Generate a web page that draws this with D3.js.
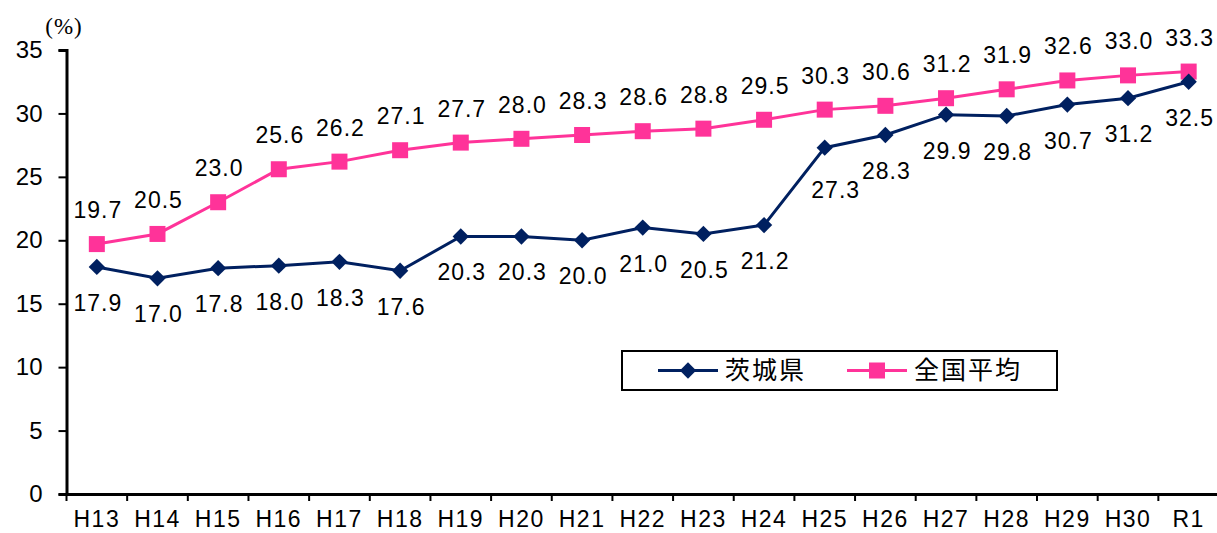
<!DOCTYPE html>
<html>
<head>
<meta charset="utf-8">
<script src="https://cdn.jsdelivr.net/npm/d3@7"></script>
<style>
  body { margin: 0; background: #fff; }
  svg { display: block; font-family: "Liberation Sans", Arial, sans-serif; }
</style>
</head>
<body>
<svg id="chart" width="1217" height="533"></svg>
<script>
// data
const years = ["H13","H14","H15","H16","H17","H18","H19","H20","H21","H22","H23","H24","H25","H26","H27","H28","H29","H30","R1"]
const ibaraki = [17.9,17.0,17.8,18.0,18.3,17.6,20.3,20.3,20.0,21.0,20.5,21.2,27.3,28.3,29.9,29.8,30.7,31.2,32.5]
const national = [19.7,20.5,23.0,25.6,26.2,27.1,27.7,28.0,28.3,28.6,28.8,29.5,30.3,30.6,31.2,31.9,32.6,33.0,33.3]
const yTicks = [0,5,10,15,20,25,30,35]

const navy = "#002060"
const pink = "#FF3399"

const svg = d3.select("#chart")
const plotLeft = 66.5, plotRight = 1219, plotTop = 50, plotBottom = 494

const x = d3.scaleBand().domain(years).range([plotLeft, plotRight])
const y = d3.scaleLinear().domain([0, 35]).range([plotBottom, plotTop])
const cx = d => x(d) + x.bandwidth() / 2

// y axis
const yAxis = svg.append("g")
  .attr("transform", `translate(${plotLeft},0)`)
  .call(d3.axisLeft(y).tickValues(yTicks).tickSize(8).tickPadding(16))
yAxis.select(".domain").attr("stroke", "#000").attr("stroke-width", 3)
yAxis.selectAll(".tick line").attr("stroke", "#000").attr("stroke-width", 2)
yAxis.selectAll(".tick text")
  .attr("font-size", 24).attr("fill", "#000")
  .attr("font-family", "Liberation Sans, Arial, sans-serif")

// x axis: labels from axis, ticks at band boundaries
const xAxis = svg.append("g")
  .attr("transform", `translate(0,${plotBottom})`)
  .call(d3.axisBottom(x).tickSize(0).tickPadding(17))
xAxis.select(".domain").attr("stroke", "#000").attr("stroke-width", 3)
xAxis.selectAll(".tick text")
  .attr("font-size", 23).attr("fill", "#000")
  .attr("letter-spacing", 1.5)
  .attr("font-family", "Liberation Sans, Arial, sans-serif")
svg.append("g").selectAll("line")
  .data(years)
  .enter().append("line")
  .attr("x1", d => x(d)).attr("x2", d => x(d))
  .attr("y1", plotBottom).attr("y2", plotBottom + 7)
  .attr("stroke", "#000").attr("stroke-width", 2)

// unit label
svg.append("text")
  .attr("x", 64).attr("y", 34)
  .attr("text-anchor", "middle")
  .attr("font-size", 23)
  .attr("letter-spacing", 1)
  .attr("font-family", "Liberation Serif, serif")
  .text("(%)")

const line = d3.line().x((d, i) => cx(years[i])).y(d => y(d))

// national average
svg.append("path").datum(national)
  .attr("d", line).attr("fill", "none")
  .attr("stroke", pink).attr("stroke-width", 3)
svg.append("g").selectAll("rect")
  .data(national).enter().append("rect")
  .attr("x", (d, i) => cx(years[i]) - 8)
  .attr("y", d => y(d) - 8)
  .attr("width", 16).attr("height", 16)
  .attr("fill", pink)

// ibaraki
svg.append("path").datum(ibaraki)
  .attr("d", line).attr("fill", "none")
  .attr("stroke", navy).attr("stroke-width", 3)
const diamond = d3.symbol().type(d3.symbolDiamond2).size(170)
svg.append("g").selectAll("path")
  .data(ibaraki).enter().append("path")
  .attr("d", diamond)
  .attr("transform", (d, i) => `translate(${cx(years[i])},${y(d)})`)
  .attr("fill", navy)

// value labels
const labelFont = {size: 23, spacing: 1}
svg.append("g").selectAll("text")
  .data(national).enter().append("text")
  .attr("x", (d, i) => cx(years[i]) + 1)
  .attr("y", d => y(d) - 26)
  .attr("text-anchor", "middle")
  .attr("font-size", labelFont.size)
  .attr("letter-spacing", labelFont.spacing)
  .text(d => d.toFixed(1))

// H25 label sits a bit lower and right in the original
const nudge = {12: [10, 6]}
svg.append("g").selectAll("text")
  .data(ibaraki).enter().append("text")
  .attr("x", (d, i) => cx(years[i]) + 1 + (nudge[i] ? nudge[i][0] : 0))
  .attr("y", (d, i) => y(d) + 44 + (nudge[i] ? nudge[i][1] : 0))
  .attr("text-anchor", "middle")
  .attr("font-size", labelFont.size)
  .attr("letter-spacing", labelFont.spacing)
  .text(d => d.toFixed(1))

// legend
const lg = svg.append("g")
lg.append("rect")
  .attr("x", 622).attr("y", 351).attr("width", 435).attr("height", 39)
  .attr("fill", "#fff").attr("stroke", "#000").attr("stroke-width", 2)
const items = [
  {name: "茨城県", color: navy, x0: 658, shape: "diamond"},
  {name: "全国平均", color: pink, x0: 847, shape: "square"}
]
items.forEach(it => {
  lg.append("line")
    .attr("x1", it.x0).attr("x2", it.x0 + 60)
    .attr("y1", 370.5).attr("y2", 370.5)
    .attr("stroke", it.color).attr("stroke-width", 3)
  if (it.shape === "diamond") {
    lg.append("path").attr("d", diamond)
      .attr("transform", `translate(${it.x0 + 30},370.5)`)
      .attr("fill", it.color)
  } else {
    lg.append("rect")
      .attr("x", it.x0 + 22).attr("y", 362.5).attr("width", 16).attr("height", 16)
      .attr("fill", it.color)
  }
  lg.append("text")
    .attr("x", it.x0 + 67).attr("y", 379)
    .attr("font-size", 25)
    .attr("letter-spacing", 2)
    .attr("font-family", "Noto Sans CJK JP, sans-serif")
    .text(it.name)
})
</script>
</body>
</html>
